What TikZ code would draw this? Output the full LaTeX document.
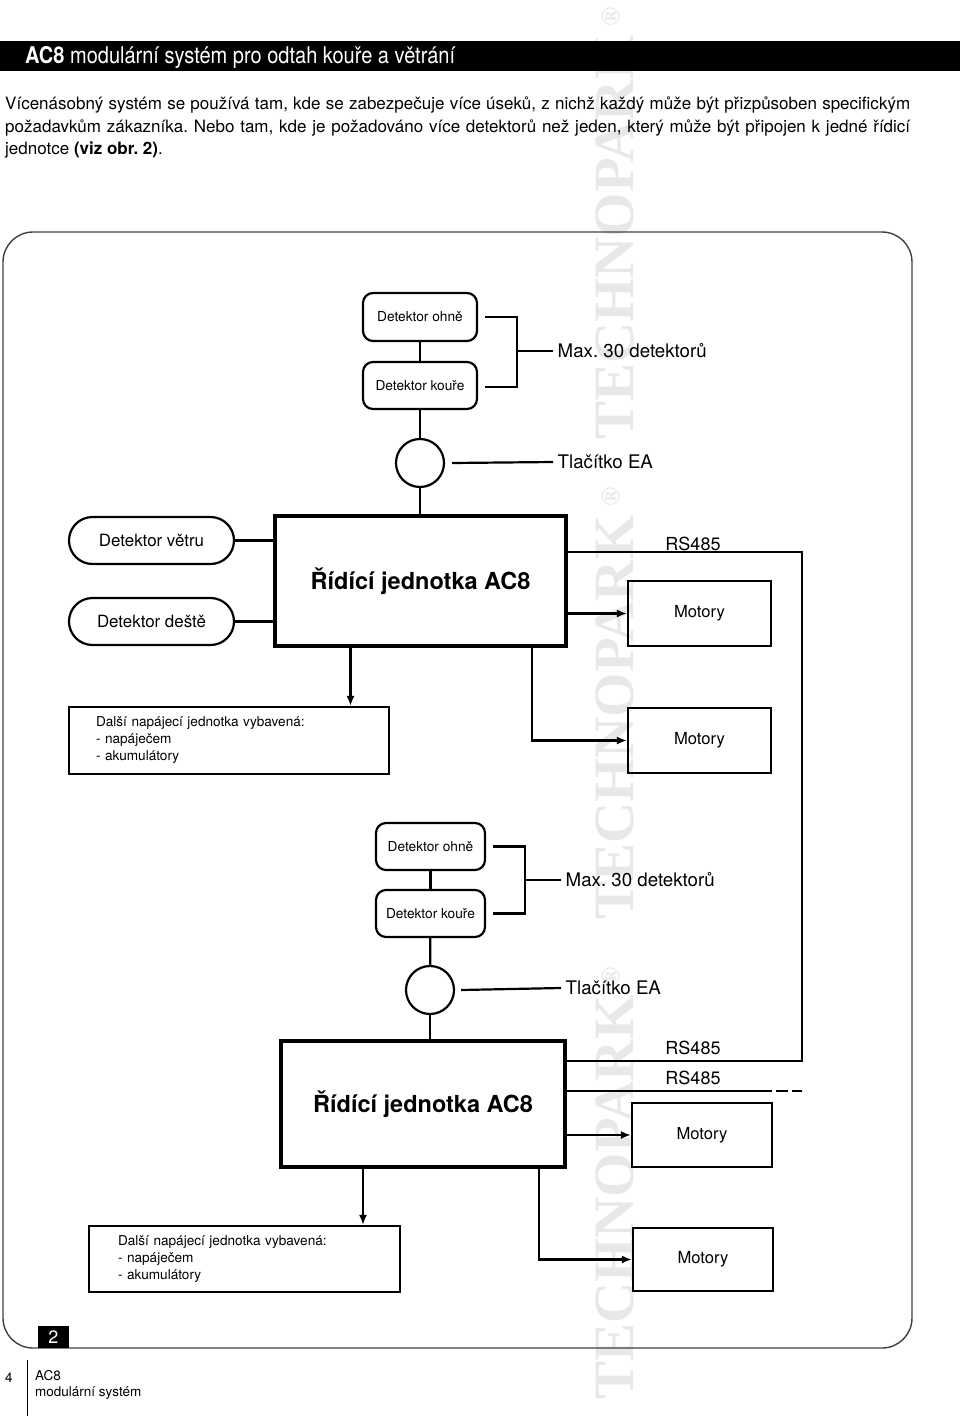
\documentclass[tikz,border=0pt]{standalone}
\usepackage{fontspec}
\setmainfont{TeX Gyre Heros}
\newfontfamily\wmfont{Liberation Serif}
\usepackage{graphicx}
\usetikzlibrary{arrows.meta,positioning}
\frenchspacing

\newcommand{\fsz}[2]{\fontsize{#1}{#2}\selectfont}

\tikzset{
  detbox/.style={draw, rectangle, rounded corners=10pt, line width=2.2pt,
    minimum width=114pt, minimum height=48pt, font=\fsz{13.7}{16}},
  sensor/.style={draw, rectangle, rounded corners=23.5pt, line width=2.2pt,
    minimum width=165pt, minimum height=47pt, font=\fsz{16.9}{20}},
  unitbox/.style={draw, rectangle, line width=3.5pt, font=\bfseries\fsz{23.5}{28}},
  motorbox/.style={draw, rectangle, line width=2.2pt,
    minimum width=143pt, minimum height=65pt, font=\fsz{16.6}{20}},
  powerbox/.style={draw, rectangle, line width=2.2pt, align=left,
    inner xsep=27pt, inner ysep=0pt, font=\fsz{13.6}{17}},
  eabtn/.style={draw, circle, line width=2.2pt, minimum size=48pt, inner sep=0pt},
  sidenote/.style={anchor=west, inner sep=4.5pt, font=\fsz{18.7}{22}},
  wire/.style={line width=2.2pt},
  arr/.style={line width=2.2pt, -{Latex[length=10pt,width=8pt]}},
  wmark/.style={rotate=90, anchor=base west, inner sep=0pt, text=black!9,
    font=\wmfont\bfseries\fsz{57}{60}}
}

\begin{document}
\frenchspacing
\begin{tikzpicture}[x=1pt,y=-1pt]
\useasboundingbox (0,0) rectangle (960,1416);

% watermark
\node[wmark] (wm1) at (633,1400) {TECHNOPARK\,{\fsz{26}{26}\raisebox{14pt}{®}}};
\node[wmark] (wm2) at (633,920) {TECHNOPARK\,{\fsz{26}{26}\raisebox{14pt}{®}}};
\node[wmark] (wm3) at (633,440) {TECHNOPARK\,{\fsz{26}{26}\raisebox{14pt}{®}}};

% header and intro
\fill[black] (0,41) rectangle (960,71);
\node[anchor=west, text=white, inner sep=0pt, font=\fsz{23}{26}] (title) at (25,57)
  {\scalebox{0.87}[1]{\textbf{AC8} modulární systém pro odtah kouře a větrání}};

\node[anchor=base west, inner sep=0pt, font=\fsz{17}{22}] (intro1) at (5,109)
  {\makebox[905pt][s]{Vícenásobný systém se používá tam, kde se zabezpečuje více úseků, z nichž každý může být přizpůsoben specifickým}};
\node[anchor=base west, inner sep=0pt, font=\fsz{17}{22}] (intro2) at (5,132)
  {\makebox[905pt][s]{požadavkům zákazníka. Nebo tam, kde je požadováno více detektorů než jeden, který může být připojen k jedné řídicí}};
\node[anchor=base west, inner sep=0pt, font=\fsz{17}{22}] (intro3) at (5,154)
  {jednotce \textbf{(viz obr. 2)}.};

% frame
\draw[line width=1.4pt, black!75, rounded corners=30pt] (3,232) rectangle (912,1348);
\node[fill=black, text=white, minimum width=31pt, minimum height=22pt,
  inner sep=0pt, font=\fsz{18}{20}] (fig) at (53.5,1337) {2};

% first section
\node[detbox] (ohne1) at (420,317) {Detektor ohně};
\node[detbox, minimum height=47pt] (koure1) at (420,385.5) {Detektor kouře};
\node[eabtn] (ea1) at (420,463) {};
\node[unitbox, minimum width=291pt, minimum height=130pt] (unit1) at (420.5,581)
  {Řídící jednotka AC8};
\node[sensor] (vetru) at (151.5,540.5) {Detektor větru};
\node[sensor] (deste) at (151.5,621.5) {Detektor deště};
\node[powerbox, text width=266pt, minimum height=67pt] (pow1) at (229,740.5)
  {Další napájecí jednotka vybavená:\\- napáječem\\- akumulátory};
\node[motorbox] (mot1) at (699.5,613.5) {Motory};
\node[motorbox] (mot2) at (699.5,740.5) {Motory};

\coordinate (br1) at (517,351);
\node[sidenote] (max1) at (553,351) {Max. 30 detektorů};
\node[sidenote] (tl1) at (553,462) {Tlačítko EA};
\node[font=\fsz{18}{22}] (rs1) at (693,544) {RS485};

\draw[wire] (ohne1) -- (koure1);
\draw[wire] (koure1) -- (ea1);
\draw[wire] (ea1) -- (ea1 |- unit1.north);
\draw[wire] ([xshift=7pt]ohne1.east) -| (br1) |- ([xshift=7pt,yshift=-1.5pt]koure1.east);
\draw[wire] (br1) -- (max1.west);
\draw[wire] ([xshift=7pt]ea1.east) -- (tl1.west);
\draw[wire] (vetru.east) -- (vetru -| unit1.west);
\draw[wire] (deste.east) -- (deste -| unit1.west);
\draw[arr] ([xshift=-70pt]unit1.south) -- ([xshift=-70pt]unit1.south |- pow1.north);
\draw[arr] (unit1.east |- mot1.west) -- (mot1.west);
\draw[arr] ([xshift=111.5pt]unit1.south) |- (mot2.west);

% second section
\node[detbox, minimum width=109pt, minimum height=47pt] (ohne2) at (430.5,846.5) {Detektor ohně};
\node[detbox, minimum width=109pt, minimum height=47pt] (koure2) at (430.5,913.5) {Detektor kouře};
\node[eabtn] (ea2) at (430,990) {};
\node[unitbox, minimum width=284pt, minimum height=126pt] (unit2) at (423,1104)
  {Řídící jednotka AC8};
\node[powerbox, text width=253pt, inner xsep=29pt, minimum height=66pt] (pow2) at (244.5,1259)
  {Další napájecí jednotka vybavená:\\- napáječem\\- akumulátory};
\node[motorbox, minimum width=140pt, minimum height=64pt] (mot3) at (702,1135) {Motory};
\node[motorbox, minimum width=140pt, minimum height=63pt] (mot4) at (703,1259.5) {Motory};

\coordinate (br2) at (525,880);
\node[sidenote] (max2) at (561,880) {Max. 30 detektorů};
\node[sidenote] (tl2) at (561,988) {Tlačítko EA};
\node[font=\fsz{18}{22}] (rs2) at (693,1048) {RS485};
\node[font=\fsz{18}{22}] (rs3) at (693,1078) {RS485};

\draw[wire] (ohne2) -- (koure2);
\draw[wire] (koure2) -- (ea2);
\draw[wire] (ea2) -- (ea2 |- unit2.north);
\draw[wire] ([xshift=7pt]ohne2.east) -| (br2) |- ([xshift=7pt]koure2.east);
\draw[wire] (br2) -- (max2.west);
\draw[wire] ([xshift=6pt]ea2.east) -- (tl2.west);
\draw[arr] ([xshift=-60pt]unit2.south) -- ([xshift=-60pt]unit2.south |- pow2.north);
\draw[arr] (unit2.east |- mot3.west) -- (mot3.west);
\draw[arr] ([xshift=116pt]unit2.south) |- (mot4.west);

% RS485 links
\coordinate (rsr) at (802,800);
\coordinate (rsend) at (772,1091);
\coordinate (rsdash) at (802,1091);
\draw[wire, line width=1.8pt] ([yshift=29pt]unit1.east) -| (rsr) |- ([yshift=43pt]unit2.east);
\draw[wire, line width=1.8pt] ([yshift=13pt]unit2.east) -- (rsend);
\draw[wire, line width=1.8pt, dash pattern=on 0pt off 4pt on 12pt off 4pt on 10pt] (rsend) -- (rsdash);

% footer
\node[anchor=west, inner sep=0pt, font=\fsz{13.5}{16}] (pgno) at (5,1378) {4};
\draw[line width=1pt] (27,1360) -- (27,1416);
\node[anchor=west, align=left, inner sep=0pt, font=\fsz{13.5}{16}] (foot) at (35,1385)
  {AC8\\modulární systém};

\end{tikzpicture}
\end{document}
